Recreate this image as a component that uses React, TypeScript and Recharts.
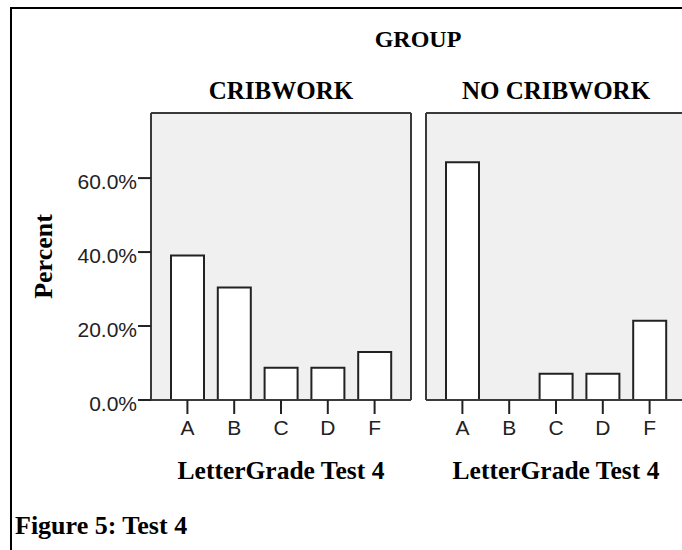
import React from 'react';
import { Bar, BarChart, CartesianGrid, XAxis, YAxis } from 'recharts';

const grades = ['A', 'B', 'C', 'D', 'F'];
const cribworkPct = [39.1, 30.4, 8.7, 8.7, 13.0];
const noCribworkPct = [64.3, 0, 7.1, 7.1, 21.4];
const percentTicks = [0, 20, 40, 60];
const groupTitle = 'GROUP';
const panelTitles = ['CRIBWORK', 'NO CRIBWORK'];
const xTitle = 'LetterGrade Test 4';
const yTitle = 'Percent';
const caption = 'Figure 5: Test 4';

const SERIF = '"Liberation Serif", "Times New Roman", serif';
const SANS = '"Liberation Sans", Arial, sans-serif';
const PANEL_FILL = '#f0f0f0';
const FRAME = '#3a3a3a';
const Y_MAX = 77.6;

const XTick = ({ x, y, payload }: any) => (
  <text x={x} y={y} dy={19} textAnchor="middle" fontFamily={SANS} fontSize={21} fill="#222">
    {payload.value}
  </text>
);

const YTick = ({ x, y, payload }: any) => (
  <text x={x} y={y} dy={11} textAnchor="end" fontFamily={SANS} fontSize={21} fill="#222">
    {payload.value.toFixed(1) + '%'}
  </text>
);

const XTitleLabel = ({ viewBox }: any) => (
  <text x={viewBox.x + viewBox.width / 2} y={479} textAnchor="middle" fontFamily={SERIF} fontWeight="bold" fontSize={25.5} fill="#000">
    {xTitle}
  </text>
);

const YTitleLabel = ({ viewBox }: any) => {
  const cy = viewBox.y + viewBox.height / 2;
  return (
    <text x={52} y={cy} transform={`rotate(-90, 52, ${cy})`} textAnchor="middle" fontFamily={SERIF} fontWeight="bold" fontSize={26} fill="#000">
      {yTitle}
    </text>
  );
};

// panel frame: grid lines only at the plot edges
const frameRows = ({ offset }: any) => [offset.top, offset.top + offset.height];
const frameCols = ({ offset }: any) => [offset.left, offset.left + offset.width];

const Panel = ({ values, showY, left, width }: { values: number[]; showY: boolean; left: number; width: number }) => {
  const data = grades.map((g, i) => ({ grade: g, pct: values[i] }));
  return (
    <div style={{ position: 'absolute', left: showY ? left : left - 1, top: 0 }}>
      <BarChart width={width} height={550} data={data} margin={{ top: 113, right: showY ? 9 : 0, bottom: 0, left: 0 }}>
        <CartesianGrid
          fill={PANEL_FILL}
          stroke={FRAME}
          strokeWidth={2}
          horizontalCoordinatesGenerator={frameRows}
          verticalCoordinatesGenerator={frameCols}
        />
        <XAxis
          dataKey="grade"
          height={150}
          padding={{ left: 13, right: 13 }}
          axisLine={{ stroke: FRAME, strokeWidth: 2 }}
          tickLine={{ stroke: '#222', strokeWidth: 2 }}
          tickSize={14}
          tickMargin={2}
          tick={<XTick />}
          interval={0}
          label={<XTitleLabel />}
        />
        <YAxis
          width={showY ? 151 : 1}
          domain={[0, Y_MAX]}
          ticks={percentTicks}
          axisLine={{ stroke: FRAME, strokeWidth: 2 }}
          tickLine={showY ? { stroke: '#222', strokeWidth: 2 } : false}
          tickSize={13}
          tickMargin={1}
          tick={showY ? <YTick /> : false}
          label={showY ? <YTitleLabel /> : undefined}
        />
        <Bar dataKey="pct" barSize={33} fill="#fff" stroke="#222" strokeWidth={2} isAnimationActive={false} />
      </BarChart>
    </div>
  );
};

const Title = ({ x, y, size, children }: { x: number; y: number; size: number; children: React.ReactNode }) => (
  <text x={x} y={y} textAnchor="middle" fontFamily={SERIF} fontWeight="bold" fontSize={size} fill="#000">
    {children}
  </text>
);

export default function App() {
  return (
    <div style={{ position: 'absolute', left: 0, top: 0, width: 682, height: 550, overflow: 'hidden', background: '#fff' }}>
      <div style={{ position: 'absolute', left: 10, top: 7, width: 700, height: 560, borderLeft: '2px solid #000', borderTop: '2px solid #000' }} />
      <Panel values={cribworkPct} showY={true} left={0} width={420} />
      <Panel values={noCribworkPct} showY={false} left={426} width={261} />
      <svg width={682} height={550} style={{ position: 'absolute', left: 0, top: 0, pointerEvents: 'none' }}>
        <Title x={418} y={47} size={24}>{groupTitle}</Title>
        <Title x={281} y={99} size={25}>{panelTitles[0]}</Title>
        <Title x={556} y={99} size={25}>{panelTitles[1]}</Title>
        <text x={15} y={534} fontFamily={SERIF} fontWeight="bold" fontSize={26} fill="#000">
          {caption}
        </text>
      </svg>
    </div>
  );
}
